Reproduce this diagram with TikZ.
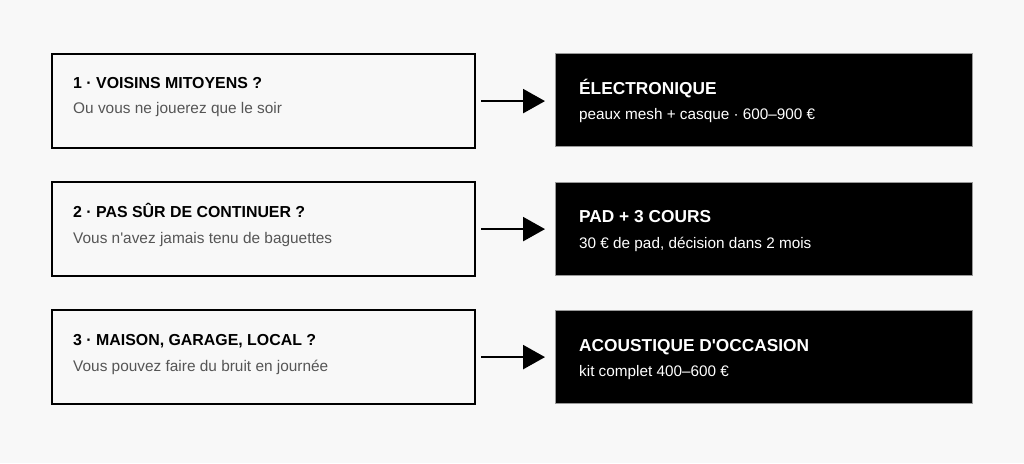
\documentclass[tikz,border=0pt]{standalone}
\usepackage{fontspec}
\setmainfont{Liberation Sans}
\usetikzlibrary{arrows.meta}
\definecolor{bg}{HTML}{F8F8F8}
\definecolor{subgrey}{HTML}{555555}
\definecolor{edgegrey}{HTML}{999999}
\tikzset{
  qbox/.style={draw=black, line width=2.2pt, fill=bg, minimum width=423pt, minimum height=94pt, inner sep=0pt, anchor=north west},
  abox/.style={draw=edgegrey, line width=0.6pt, fill=black, minimum width=417pt, minimum height=93pt, inner sep=0pt, anchor=north west},
  qtitle/.style={anchor=base west, inner sep=0pt, font=\fontsize{15.9}{18}\selectfont\bfseries, text=black},
  qsub/.style={anchor=base west, inner sep=0pt, font=\fontsize{15.4}{18}\selectfont, text=subgrey},
  atitle/.style={anchor=base west, inner sep=0pt, font=\fontsize{17.3}{20}\selectfont\bfseries, text=white},
  asub/.style={anchor=base west, inner sep=0pt, font=\fontsize{15.3}{18}\selectfont, text=white},
  link/.style={line width=2.4pt, -{Triangle[length=22pt,width=24pt]}, shorten <=5pt, shorten >=10pt}
}
\begin{document}
\begin{tikzpicture}[x=1pt,y=-1pt]
\fill[bg] (0,0) rectangle (1024,463);
\useasboundingbox (0,0) rectangle (1024,463);

\node[qbox] (q1) at (51,53) {};
\node[qbox] (q2) at (51,181) {};
\node[qbox] (q3) at (51,309) {};
\node[abox] (a1) at (555,53) {};
\node[abox] (a2) at (555,182) {};
\node[abox] (a3) at (555,310) {};

\node[qtitle] (q1t) at (73,88) {1 · VOISINS MITOYENS ?};
\node[qsub] (q1s) at (73,113) {Ou vous ne jouerez que le soir};
\node[qtitle] (q2t) at (73,217) {2 · PAS SÛR DE CONTINUER ?};
\node[qsub] (q2s) at (73,243) {Vous n\textquotesingle avez jamais tenu de baguettes};
\node[qtitle] (q3t) at (73,345) {3 · MAISON, GARAGE, LOCAL ?};
\node[qsub] (q3s) at (73,371) {Vous pouvez faire du bruit en journée};

\node[atitle] (a1t) at (579,94) {ÉLECTRONIQUE};
\node[asub] (a1s) at (579,119) {peaux mesh + casque · 600–900 €};
\node[atitle] (a2t) at (579,222) {PAD + 3 COURS};
\node[asub] (a2s) at (579,248) {30 € de pad, décision dans 2 mois};
\node[atitle] (a3t) at (579,351) {ACOUSTIQUE D\textquotesingle OCCASION};
\node[asub] (a3s) at (579,376) {kit complet 400–600 €};

\draw[link] (q1.east) -- (q1.east -| a1.west);
\draw[link] (q2.east) -- (q2.east -| a2.west);
\draw[link] (q3.east) -- (q3.east -| a3.west);
\end{tikzpicture}
\end{document}
